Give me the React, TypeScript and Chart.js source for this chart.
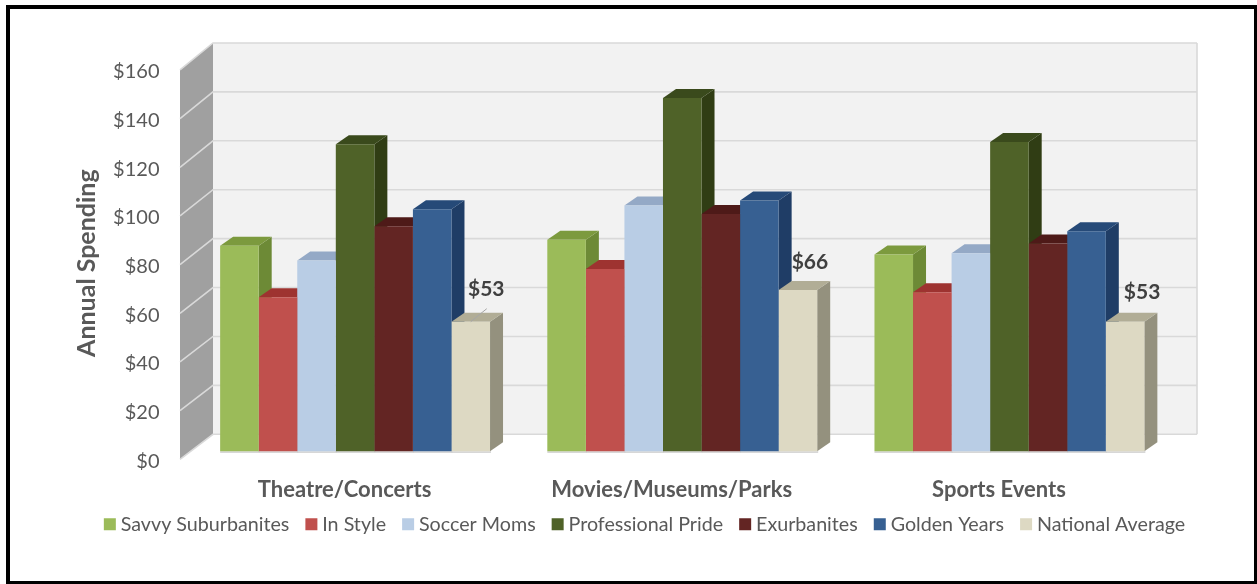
import React, { useEffect, useRef } from "react";
import { Chart, registerables } from "chart.js";

Chart.register(...registerables);

const categories = ["Theatre/Concerts", "Movies/Museums/Parks", "Sports Events"];
const savvySuburbanites = [84, 86.5, 80.5];
const inStyle = [63, 74.5, 65];
const soccerMoms = [78, 100.5, 81];
const professionalPride = [125.5, 144.5, 126.5];
const exurbanites = [92, 97, 85];
const goldenYears = [99, 102.5, 90];
const nationalAverage = [53, 66, 53];
const seriesNames = ["Savvy Suburbanites", "In Style", "Soccer Moms", "Professional Pride", "Exurbanites", "Golden Years", "National Average"];
const seriesValues = [savvySuburbanites, inStyle, soccerMoms, professionalPride, exurbanites, goldenYears, nationalAverage];
const frontColors = ["#9bbb59", "#c0504d", "#b9cde5", "#4f6228", "#632523", "#376092", "#ddd9c3"];
const topColors = ["#7c9a3e", "#9e3330", "#94a9c6", "#3a4a1c", "#4e1a18", "#264a78", "#b1ad96"];
const sideColors = ["#6d8a36", "#8a2c29", "#8397b3", "#303d14", "#431412", "#1f3d66", "#94917e"];

const W = 1257, H = 584;
const DX = 13, DY = 9;
const FONT = "Lato, 'Open Sans', sans-serif";
const TEXT = "#595959";

const scene3d = {
  id: "scene3d",
  afterLayout(chart: any) {
    chart.scales.x.bottom = 515;
    chart.scales.yl.bottom += 24;
    chart.legend.left -= 11;
  },
  beforeDraw(chart: any) {
    const c = chart.ctx;
    c.save();
    c.fillStyle = "#fff";
    c.fillRect(0, 0, W, H);
    c.fillStyle = "#000";
    c.fillRect(6, 5, W - 6, H - 5);
    c.fillStyle = "#fff";
    c.fillRect(10, 9, W - 13, H - 12);
    c.restore();
  },
  beforeDatasetsDraw(chart: any) {
    const c = chart.ctx;
    const y = chart.scales.y, yl = chart.scales.yl;
    const bx0 = 213, bx1 = 1197;
    const by = (v: number) => y.getPixelForValue(v) - 17;
    c.save();
    // back wall
    c.fillStyle = "#f2f2f2";
    c.fillRect(bx0, by(160), bx1 - bx0, by(0) - by(160));
    // left wall
    c.fillStyle = "#a0a0a0";
    c.beginPath();
    c.moveTo(180, yl.getPixelForValue(160));
    c.lineTo(bx0, by(160));
    c.lineTo(bx0, by(0));
    c.lineTo(180, yl.getPixelForValue(0));
    c.closePath();
    c.fill();
    // grid lines
    c.strokeStyle = "#d9d9d9";
    c.lineWidth = 1.6;
    for (const t of yl.ticks) {
      c.beginPath();
      c.moveTo(180, yl.getPixelForValue(t.value));
      c.lineTo(bx0, by(t.value));
      c.lineTo(bx1, by(t.value));
      c.stroke();
    }
    c.beginPath();
    c.moveTo(bx1, by(160));
    c.lineTo(bx1, by(0));
    c.stroke();
    // bar tops and sides, left to right
    const n = categories.length, m = seriesValues.length;
    for (let i = 0; i < n; i++) {
      for (let d = 0; d < m; d++) {
        const b = chart.getDatasetMeta(d).data[i];
        const x0 = b.x - b.width / 2, x1 = b.x + b.width / 2;
        c.fillStyle = "#cfcfcf";
        c.fillRect(x0, b.base, b.width + 1, 1.5);
        c.fillStyle = sideColors[d];
        c.beginPath();
        c.moveTo(x1, b.y);
        c.lineTo(x1 + DX, b.y - DY);
        c.lineTo(x1 + DX, b.base - DY);
        c.lineTo(x1, b.base);
        c.closePath();
        c.fill();
        c.fillStyle = topColors[d];
        c.beginPath();
        c.moveTo(x0, b.y);
        c.lineTo(x0 + DX, b.y - DY);
        c.lineTo(x1 + DX, b.y - DY);
        c.lineTo(x1, b.y);
        c.closePath();
        c.fill();
      }
    }
    c.restore();
  },
  afterDatasetsDraw(chart: any) {
    const c = chart.ctx;
    const last = seriesValues.length - 1;
    const meta = chart.getDatasetMeta(last);
    const offX = [15.5, 12, 17];
    const offY = [-32, -28, -29];
    c.save();
    // leader line on the first label
    const f = meta.data[0];
    c.strokeStyle = "#a6a6a6";
    c.lineWidth = 1;
    c.beginPath();
    c.moveTo(f.x, f.y);
    c.lineTo(f.x + 16, f.y - 13);
    c.stroke();
    c.font = `bold 21px ${FONT}`;
    c.fillStyle = "#404040";
    c.textAlign = "center";
    c.textBaseline = "middle";
    meta.data.forEach((b: any, i: number) => {
      c.fillText("$" + nationalAverage[i], b.x + offX[i], b.y + offY[i]);
    });
    c.restore();
  },
};

export default function App() {
  const ref = useRef<HTMLCanvasElement>(null);
  useEffect(() => {
    document.body.style.margin = "0";
    const chart = new Chart(ref.current!, {
      type: "bar",
      data: {
        labels: categories,
        datasets: seriesNames.map((name, d) => ({
          label: name,
          data: seriesValues[d],
          backgroundColor: frontColors[d],
          borderWidth: 0,
          categoryPercentage: 270 / 327.3,
          barPercentage: 1,
          yAxisID: "y",
        })),
      },
      options: {
        animation: false,
        responsive: false,
        devicePixelRatio: 1,
        layout: { padding: { top: 43, left: 72, right: 24, bottom: 40 } },
        plugins: {
          tooltip: { enabled: false },
          legend: {
            position: "bottom",
            labels: {
              usePointStyle: true,
              pointStyle: "rect",
              boxWidth: 2,
              boxHeight: 12,
              padding: 21,
              color: TEXT,
              font: { family: FONT, size: 19.7 },
            },
          },
        },
        scales: {
          x: {
            grid: { display: false },
            border: { display: false },
            afterFit(s: any) { s.height = 34; },
            ticks: {
              color: TEXT,
              padding: 9,
              labelOffset: -10.5,
              maxRotation: 0,
              font: { family: FONT, size: 22, weight: "bold" },
            },
          },
          y: {
            display: false,
            min: -8 / 2.45,
            max: (452 - 43) / 2.45,
          },
          rightSpace: {
            axis: "y",
            position: "right",
            min: 0,
            max: 1,
            grid: { display: false },
            border: { display: false },
            ticks: { display: false },
            afterFit(s: any) { s.width = 60; },
          },
          yl: {
            axis: "y",
            position: "left",
            min: 0,
            max: (460 - 43) / 2.4375,
            grid: { display: false },
            border: { display: false },
            afterFit(s: any) { s.width = 119.5; },
            title: {
              display: true,
              text: "Annual Spending",
              color: TEXT,
              font: { family: FONT, size: 25, weight: "bold" },
              padding: 0,
            },
            ticks: {
              stepSize: 20,
              includeBounds: false,
              padding: 24,
              labelOffset: 2,
              color: TEXT,
              font: { family: FONT, size: 20 },
              callback: (v: any) => "$" + v,
            },
          },
        },
      } as any,
      plugins: [scene3d],
    } as any);
    return () => chart.destroy();
  }, []);
  return <canvas ref={ref} width={W} height={H} style={{ display: "block", width: W, height: H }} />;
}
